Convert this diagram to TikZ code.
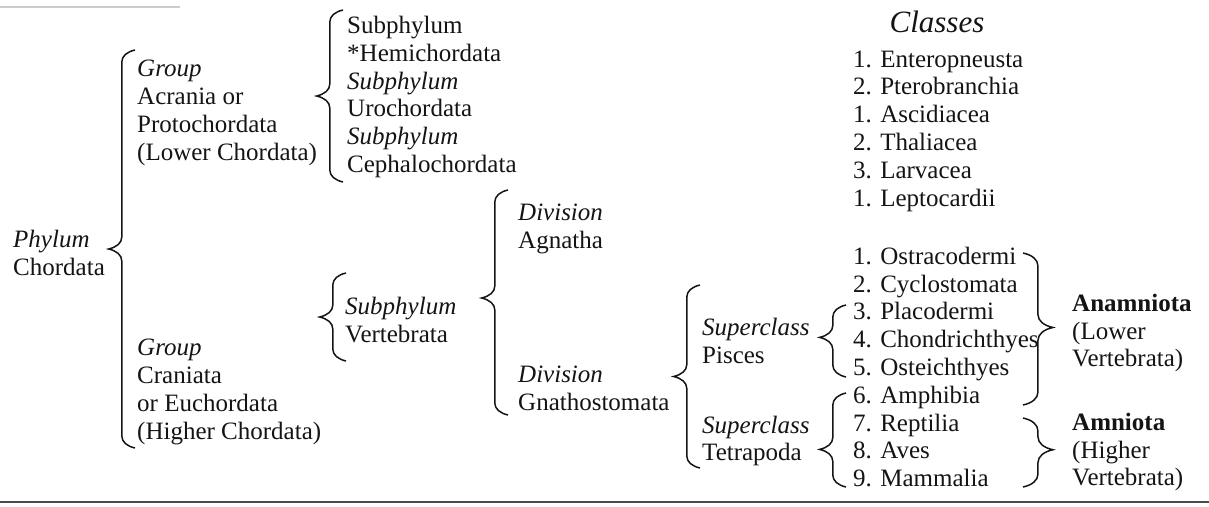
\documentclass[tikz,border=0pt]{standalone}
\usepackage{fontspec}
\setmainfont{Liberation Serif}
\usepackage{tikz}
\usetikzlibrary{decorations.pathreplacing}

\definecolor{ink}{gray}{0.08}

\begin{document}
\begin{tikzpicture}[
			x=1pt, y=-1pt,
			txt/.style={anchor=west, align=left, inner sep=0pt, text=ink,
				font=\fontsize{25}{27.8}\selectfont},
			lbrace/.style={draw=ink, line width=1.5pt, decorate,
				decoration={brace, amplitude=12pt, transform={yscale=2.2}, aspect=#1}},
			lbrace/.default=0.5,
			rbrace/.style={draw=ink, line width=1.5pt, decorate,
				decoration={brace, amplitude=13pt, transform={yscale=2.3}, aspect=#1}},
			rbrace/.default=0.5
			]
			\useasboundingbox (0,0) rectangle (1209,506);
			
			% Righe del foglio
			\draw[black!20, line width=2pt] (0,7) -- (180,7);
			\draw[black!70, line width=2.5pt] (0,502) -- (1209,502);
			
			% Phylum
			\node[txt] (phyl) at (13,253) {\textit{Phylum}\\Chordata};
			
			% Gruppi
			\node[txt] (acr) at (137,113) {\textit{Group}\\Acrania or\\Protochordata\\(Lower Chordata)};
			\node[txt] (cran) at (137,392) {\textit{Group}\\Craniata\\or Euchordata\\(Higher Chordata)};
			\coordinate (phyB) at (135,448);
			\coordinate (phyT) at (135,50);
			\draw[lbrace] (phyB) -- (phyT);
			
			% Subphyla dei protocordati
			\node[txt] (sub) at (347,97) {Subphylum\\*Hemichordata\\\textit{Subphylum}\\Urochordata\\\textit{Subphylum}\\Cephalochordata};
			\coordinate (acrB) at (343,182);
			\coordinate (acrT) at (343,10);
			\draw[lbrace] (acrB) -- (acrT);
			
			% Subphylum Vertebrata
			\node[txt] (vert) at (345,320) {\textit{Subphylum}\\Vertebrata};
			\coordinate (craB) at (346,361);
			\coordinate (craT) at (346,273);
			\draw[lbrace] (craB) -- (craT);
			
			% Divisioni
			\node[txt] (agn) at (518,229) {\textit{Division}\\Agnatha};
			\node[txt] (gna) at (518,388) {\textit{Division}\\Gnathostomata};
			\coordinate (verB) at (508,415);
			\coordinate (verT) at (508,190);
			\draw[lbrace=0.52] (verB) -- (verT);
			
			% Superclassi
			\node[txt] (pis) at (702,341) {\textit{Superclass}\\Pisces};
			\node[txt] (tet) at (702,441) {\textit{Superclass}\\Tetrapoda};
			\coordinate (gnaB) at (700,468);
			\coordinate (gnaT) at (700,285);
			\draw[lbrace] (gnaB) -- (gnaT);
			
			% Classi
			\node[txt, anchor=center, font=\fontsize{31}{34}\selectfont\itshape] (cls) at (937,22) {Classes};
			\node[txt] (cl1) at (853,131) {1. Enteropneusta\\2. Pterobranchia\\1. Ascidiacea\\2. Thaliacea\\3. Larvacea\\1. Leptocardii};
			\node[txt] (cl2) at (853,367) {1. Ostracodermi\\2. Cyclostomata\\3. Placodermi\\4. Chondrichthyes\\5. Osteichthyes\\6. Amphibia\\7. Reptilia\\8. Aves\\9. Mammalia};
			\coordinate (pisB) at (846,377);
			\coordinate (pisT) at (846,305);
			\draw[lbrace=0.55] (pisB) -- (pisT);
			\coordinate (tetB) at (846,487);
			\coordinate (tetT) at (846,393);
			\draw[lbrace=0.4] (tetB) -- (tetT);
			
			% Anamniota e Amniota
			\node[txt] (anam) at (1072,333) {\textbf{Anamniota}\\(Lower\\Vertebrata)};
			\node[txt] (amn) at (1072,452) {\textbf{Amniota}\\(Higher\\Vertebrata)};
			\coordinate (anaT) at (1023,253);
			\coordinate (anaB) at (1023,405);
			\draw[rbrace=0.49] (anaT) -- (anaB);
			\coordinate (amnT) at (1023,418);
			\coordinate (amnB) at (1023,487);
			\draw[rbrace=0.46] (amnT) -- (amnB);
			
		\end{tikzpicture}
\end{document}
